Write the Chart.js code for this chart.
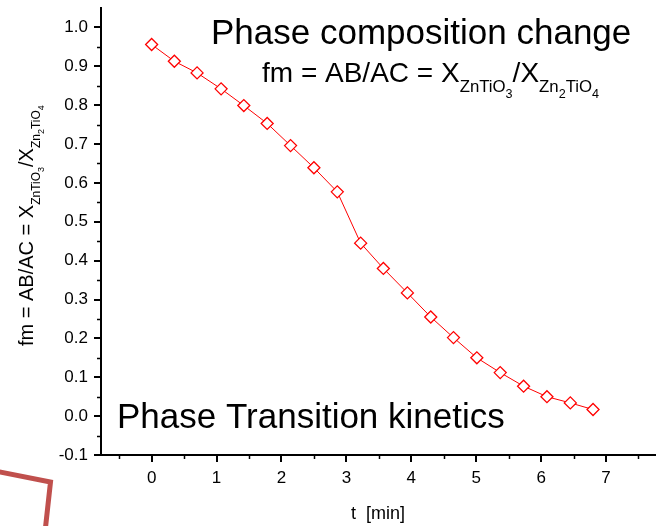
<!DOCTYPE html>
<html lang="en">
<head>
<meta charset="UTF-8">
<title>Phase composition change</title>
<script src="https://cdn.jsdelivr.net/npm/chart.js@4.4.0/dist/chart.umd.min.js"></script>
<style>
  html, body { margin: 0; padding: 0; background: #fff; }
  #wrap { width: 656px; height: 526px; }
</style>
</head>
<body>
<div id="wrap"><canvas id="kinetics" width="656" height="526"></canvas></div>
<script>
// sampling times, min
const tMin = [0, 0.35, 0.70, 1.07, 1.42, 1.78, 2.14, 2.50, 2.86, 3.22,
              3.57, 3.94, 4.30, 4.65, 5.01, 5.37, 5.73, 6.09, 6.45, 6.80];
// fm = AB/AC (phase fraction ratio)
const fmRatio = [0.956, 0.913, 0.883, 0.842, 0.799, 0.753, 0.696, 0.639, 0.577, 0.445,
                 0.380, 0.317, 0.255, 0.202, 0.150, 0.112, 0.077, 0.050, 0.034, 0.017];
// axis ranges and tick steps
const xRange = [-0.78, 7.77];
const yRange = [-0.1, 1.05];
const xStep = 1, yStep = 0.1;

const FONT = '"Liberation Sans", Arial, Helvetica, sans-serif';

// formula pieces: text, relative size, baseline drop (fraction of main size)
const formulaRuns = [
  ['fm = AB/AC = X', 1, 0],
  ['ZnTiO', 0.6, 0.36],
  ['3', 0.45, 0.56],
  ['/X', 1, 0],
  ['Zn', 0.6, 0.36],
  ['2', 0.45, 0.56],
  ['TiO', 0.6, 0.36],
  ['4', 0.45, 0.56]
];

function drawRuns(ctx, runs, x, y, size) {
  let cx = x;
  runs.forEach(([txt, rel, drop]) => {
    ctx.font = (size * rel) + 'px ' + FONT;
    ctx.fillText(txt, cx, y + drop * size);
    cx += ctx.measureText(txt).width;
  });
}

const decorations = {
  id: 'decorations',
  afterDraw(chart) {
    const { ctx, chartArea, scales: { x, y } } = chart;
    ctx.save();

    // minor ticks
    ctx.strokeStyle = '#000';
    ctx.lineWidth = 1.5;
    ctx.beginPath();
    for (let i = 0; i < 9; i++) {
      const px = Math.round(x.getPixelForValue(i - 0.5)) + 0.5;
      ctx.moveTo(px, chartArea.bottom);
      ctx.lineTo(px, chartArea.bottom + 4);
    }
    for (let i = 0; i < 11; i++) {
      const py = Math.round(y.getPixelForValue(-0.05 + i * 0.1)) + 0.5;
      ctx.moveTo(chartArea.left, py);
      ctx.lineTo(chartArea.left - 4, py);
    }
    ctx.stroke();

    ctx.fillStyle = '#000';
    ctx.textAlign = 'left';
    ctx.textBaseline = 'alphabetic';

    // headings
    ctx.font = '35px ' + FONT;
    ctx.fillText('Phase composition change', 211, 44);
    drawRuns(ctx, formulaRuns, 262, 82, 28);
    ctx.font = '35px ' + FONT;
    ctx.fillText('Phase Transition kinetics', 117, 428);

    // x axis title
    ctx.textAlign = 'center';
    ctx.font = '18px ' + FONT;
    ctx.fillText('t  [min]', 378, 519);

    // y axis title, rotated
    ctx.textAlign = 'left';
    ctx.save();
    ctx.translate(33, 346);
    ctx.rotate(-Math.PI / 2);
    drawRuns(ctx, formulaRuns, 0, 0, 20);
    ctx.restore();

    // red frame corner at lower left
    ctx.strokeStyle = 'rgb(192, 80, 77)';
    ctx.lineWidth = 5;
    ctx.lineJoin = 'miter';
    ctx.beginPath();
    ctx.moveTo(-5, 471);
    ctx.lineTo(50.5, 482);
    ctx.lineTo(45, 532);
    ctx.stroke();

    ctx.restore();
  }
};

new Chart(document.getElementById('kinetics'), {
  type: 'scatter',
  data: {
    datasets: [{
      data: tMin.map((t, i) => ({ x: t, y: fmRatio[i] })),
      showLine: true,
      tension: 0,
      borderColor: '#ff0000',
      borderWidth: 1,
      pointStyle: 'rectRot',
      pointRadius: 6,
      pointBorderWidth: 1.3,
      pointBackgroundColor: '#ffffff',
      pointBorderColor: '#ff0000'
    }]
  },
  options: {
    responsive: false,
    animation: false,
    layout: { autoPadding: false, padding: { top: 8, left: 0, right: 0, bottom: 0 } },
    plugins: { legend: { display: false }, tooltip: { enabled: false } },
    scales: {
      x: {
        type: 'linear',
        min: xRange[0],
        max: xRange[1],
        border: { display: true, color: '#000', width: 2 },
        grid: { drawOnChartArea: false, drawTicks: true, tickLength: 7, lineWidth: 2, color: '#000' },
        ticks: {
          stepSize: xStep,
          includeBounds: false,
          color: '#000',
          padding: 6,
          maxRotation: 0,
          font: { family: FONT, size: 17 },
          callback: v => String(v)
        },
        afterFit: s => { s.height = 71; s.paddingLeft = 0; s.paddingRight = 0; }
      },
      y: {
        type: 'linear',
        min: yRange[0],
        max: yRange[1],
        border: { display: true, color: '#000', width: 2 },
        grid: { drawOnChartArea: false, drawTicks: true, tickLength: 7, lineWidth: 2, color: '#000' },
        ticks: {
          stepSize: yStep,
          includeBounds: false,
          color: '#000',
          padding: 6,
          font: { family: FONT, size: 17 },
          callback: v => v.toFixed(1)
        },
        afterFit: s => { s.width = 101; s.paddingTop = 0; s.paddingBottom = 0; }
      }
    }
  },
  plugins: [decorations]
});
</script>
</body>
</html>
